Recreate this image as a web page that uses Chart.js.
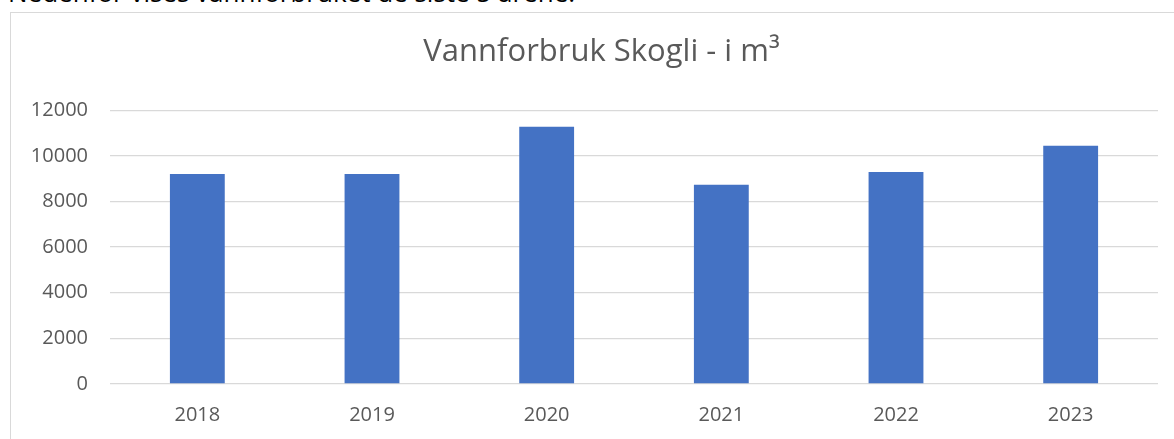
<!DOCTYPE html>
<html>
<head>
<meta charset="utf-8">
<script src="https://cdn.jsdelivr.net/npm/chart.js@4"></script>
<style>
    body { margin: 0; background: #fff; width: 1174px; height: 439px; overflow: hidden; position: relative; }
    #intro { position: absolute; left: 8px; top: -26px; font-family: "Open Sans", sans-serif; font-size: 26px; line-height: normal; color: #000; white-space: nowrap; }
    #frame { position: absolute; left: 10px; top: 12px; width: 1164px; height: 427px; box-sizing: border-box;
             border-left: 1px solid #d9d9d9; border-top: 1px solid #d9d9d9; background: #fff; }
    #wrap { position: relative; width: 1163px; height: 426px; }
</style>
</head>
<body>
<div id="intro">Nedenfor vises vannforbruket de siste 5 årene.</div>
<div id="frame"><div id="wrap"><canvas id="vannChart"></canvas></div></div>
<script>
var years = ["2018", "2019", "2020", "2021", "2022", "2023"];
var forbruk = [9200, 9200, 11280, 8730, 9290, 10440];
var yTicks = [0, 2000, 4000, 6000, 8000, 10000, 12000];

var textColor = "#595959";
var gridColor = "#d9d9d9";

// shift the title a little to the right, like Excel centres it
var titleShift = {
    id: 'titleShift',
    afterLayout: function(chart) {
        if (chart.titleBlock) {
            chart.titleBlock.left += 16;
        }
    }
};

var ctx = document.getElementById('vannChart').getContext('2d');
var vann_chart = new Chart(ctx, {
    type: 'bar',
    data: {
        labels: years,
        datasets: [
            {
                label: "Vannforbruk",
                data: forbruk,
                backgroundColor: "#4472c4",
                borderWidth: 0,
                barPercentage: 0.314,
                categoryPercentage: 1.0
            }
        ]
    },
    options: {
        responsive: true,
        maintainAspectRatio: false,
        animation: false,
        layout: {
            padding: { left: 18, right: 16, top: 0, bottom: 0 }
        },
        plugins: {
            legend: { display: false },
            tooltip: { enabled: false },
            title: {
                display: true,
                text: "Vannforbruk Skogli - i m³",
                color: textColor,
                font: { family: "Open Sans", size: 31, weight: 'normal', lineHeight: 1.2 },
                padding: { top: 21, bottom: 39 }
            }
        },
        scales: {
            x: {
                grid: { display: false, drawTicks: false },
                border: { display: false },
                ticks: { color: textColor, font: { family: "Open Sans", size: 20 }, padding: 19 },
                afterFit: function(scale) { scale.height = 55; }
            },
            y: {
                min: yTicks[0],
                max: yTicks[yTicks.length - 1],
                afterBuildTicks: function(scale) {
                    scale.ticks = yTicks.map(function(v) { return { value: v }; });
                },
                grid: { color: gridColor, lineWidth: 1.3, drawTicks: false },
                border: { display: false },
                ticks: {
                    color: textColor,
                    font: { family: "Open Sans", size: 20 },
                    padding: 22,
                    callback: function(v) { return String(v); }
                },
                afterFit: function(scale) { scale.width = 81; }
            }
        }
    },
    plugins: [titleShift]
});
</script>
</body>
</html>
